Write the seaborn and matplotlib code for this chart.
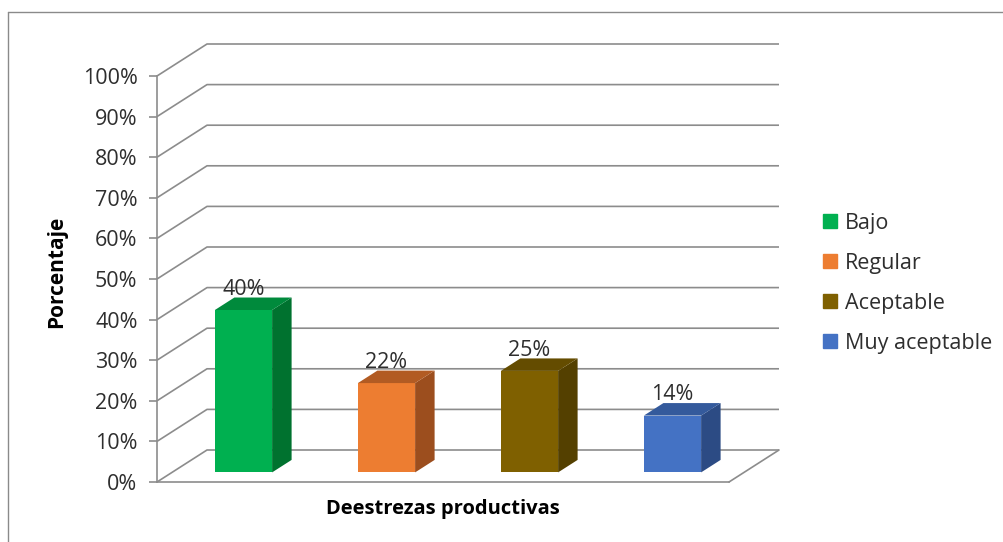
import matplotlib
matplotlib.use("Agg")
import matplotlib.pyplot as plt
from matplotlib.patches import Polygon
from matplotlib.lines import Line2D
import pandas as pd
import seaborn as sns

# Survey results: share of students per level of productive skills
categories = ["Bajo", "Regular", "Aceptable", "Muy aceptable"]
values = [40, 22, 25, 14]
tick_values = list(range(0, 101, 10))
tick_labels = [f"{v}%" for v in tick_values]

front_colors = ["#00B050", "#ED7D31", "#7F6000", "#4472C4"]
side_colors = ["#00722F", "#9C4E1E", "#544000", "#2C4B84"]
top_colors = ["#008A3C", "#B25B23", "#644C00", "#345A9C"]
grid_color = "#8C8C8C"
text_color = "#2E2E2E"

sns.set_theme(style="white")
plt.rcParams["font.family"] = ["Open Sans", "DejaVu Sans"]

W, H = 1004, 542
fig = plt.figure(figsize=(W / 100, H / 100), dpi=100)
fig.patch.set_facecolor("white")

# chart frame (top and left edges)
fig.add_artist(Line2D([8 / W, 1.0], [1 - 12 / H, 1 - 12 / H], transform=fig.transFigure,
                      color="#8A8A8A", lw=1.0))
fig.add_artist(Line2D([8 / W, 8 / W], [0.0, 1 - 12 / H], transform=fig.transFigure,
                      color="#8A8A8A", lw=1.0))

ax = fig.add_axes([157 / W, 60 / H, 572 / W, 406 / H])

df = pd.DataFrame({"nivel": categories, "porcentaje": values})
sns.barplot(data=df, x="nivel", y="porcentaje", hue="nivel", palette=front_colors,
            width=0.4, dodge=False, legend=False, saturation=1, errorbar=None, ax=ax)

ax.set_xlim(-0.5, len(categories) - 0.5)
ax.set_ylim(0, 100)

# oblique depth of the plot box (category units, value units)
DX = 50 / 143
DY = 32 / 406 * 100
T_FRONT, T_BACK = 0.30, 0.69

# back wall and floor gridlines
x_left, x_right = -0.5, len(categories) - 0.5
for v in tick_values:
    ax.plot([x_left, x_left + DX, x_right + DX], [v, v + DY, v + DY],
            color=grid_color, lw=1.2, clip_on=False, zorder=1, solid_capstyle="butt")
ax.plot([x_right, x_right + DX], [0, DY], color=grid_color, lw=1.2, clip_on=False, zorder=1)

# turn the flat bars into 3D columns
ddx = (T_BACK - T_FRONT) * DX
ddy = (T_BACK - T_FRONT) * DY
for p, val, sc, tc in zip(ax.patches, values, side_colors, top_colors):
    w = p.get_width()
    h = p.get_height()
    fx = p.get_x() + T_FRONT * DX
    fy = T_FRONT * DY
    p.set_x(fx)
    p.set_y(fy)
    p.set_linewidth(0)
    p.set_zorder(3)
    p.set_clip_on(False)
    side = Polygon([(fx + w, fy), (fx + w + ddx, fy + ddy), (fx + w + ddx, fy + h + ddy),
                    (fx + w, fy + h)], closed=True, fc=sc, ec="none", zorder=3, clip_on=False)
    top = Polygon([(fx, fy + h), (fx + ddx, fy + h + ddy), (fx + w + ddx, fy + h + ddy),
                   (fx + w, fy + h)], closed=True, fc=tc, ec="none", zorder=3, clip_on=False)
    ax.add_patch(side)
    ax.add_patch(top)
    ax.annotate(f"{val}%", (fx + w / 2, fy + h + ddy), xytext=(0, 2), textcoords="offset points",
                ha="center", va="baseline", fontsize=15.5, color=text_color, zorder=4)

# axes styling
for s in ["top", "right"]:
    ax.spines[s].set_visible(False)
for s in ["left", "bottom"]:
    ax.spines[s].set_color(grid_color)
    ax.spines[s].set_linewidth(1.2)
ax.set_xticks([])
ax.set_yticks(tick_values)
ax.set_yticklabels(tick_labels, fontsize=15.5, color=text_color)
ax.tick_params(axis="y", left=True, length=6, width=1.2, color=grid_color, pad=8)
ax.set_xlabel("")
ax.set_ylabel("")
ax.patch.set_alpha(0)

fig.text(57 / W, 1 - 272 / H, "Porcentaje", rotation=90, ha="center", va="center",
         fontsize=15, fontweight="bold", color="black")
fig.text(443 / W, 1 - 509 / H, "Deestrezas productivas", ha="center", va="center",
         fontsize=14.5, fontweight="bold", color="black")

handles = [Line2D([], [], marker="s", ls="none", markersize=10, mfc=c, mec=c) for c in front_colors]
fig.legend(handles, categories, loc="upper left", bbox_to_anchor=(821 / W, 1 - 213 / H),
           frameon=False, fontsize=15.5, handlelength=0.8, handletextpad=0.3,
           labelspacing=0.88, borderpad=0, borderaxespad=0, labelcolor=text_color)

fig.savefig("out.png", dpi=100)
